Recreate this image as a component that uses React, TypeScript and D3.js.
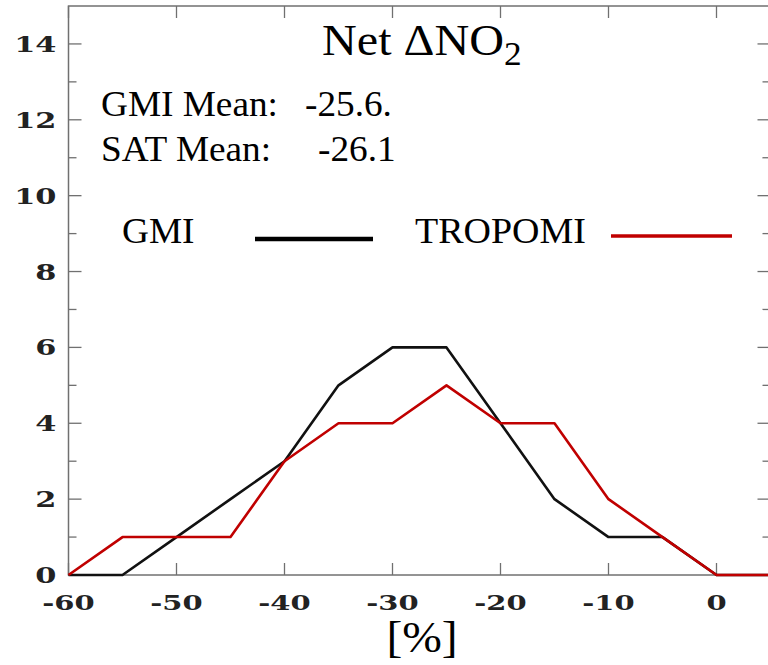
import React from "react";
import * as d3 from "d3";

const binCenters = [-60, -55, -50, -45, -40, -35, -30, -25, -20, -15, -10, -5, 0, 5];
const gmiCounts = [0, 0, 1, 2, 3, 5, 6, 6, 4, 2, 1, 1, 0, 0];
const tropomiCounts = [0, 1, 1, 1, 3, 4, 4, 5, 4, 4, 2, 1, 0, 0];
const xTicks = [-60, -50, -40, -30, -20, -10, 0];
const yTicks = [0, 2, 4, 6, 8, 10, 12, 14];
const yMinorTicks = [1, 3, 5, 7, 9, 11, 13];
const titleText = "Net \u0394NO";
const gmiMeanLabel = "GMI Mean:";
const gmiMeanValue = "-25.6.";
const satMeanLabel = "SAT Mean:";
const satMeanValue = "-26.1";
const seriesNames = ["GMI", "TROPOMI"];
const xAxisLabel = "[%]";

const W = 768;
const H = 665;
const left = 68.5;
const right = 770.5;
const top = 6;
const bottom = 575;

export default function App() {
  const x = d3.scaleLinear().domain([-60, 5]).range([left, right]);
  const y = d3.scaleLinear().domain([0, 15]).range([bottom, top]);
  const line = d3
    .line<number>()
    .x((_, i) => x(binCenters[i]))
    .y((d) => y(d));

  const axisColor = "#707070";
  const tickStyle: React.CSSProperties = {
    fontFamily: '"DejaVu Serif", serif',
    fontWeight: "bold",
  };
  const serifStyle: React.CSSProperties = {
    fontFamily: '"Liberation Serif", "Times New Roman", Times, serif',
  };
  const sx = 1.38;
  const tx = 1.05;

  const sText = (px: number, py: number, s: string, size: number, scale = tx) => (
    <text
      transform={`translate(${px},${py}) scale(${scale},1)`}
      style={serifStyle}
      fontSize={size}
      fill="#000"
    >
      {s}
    </text>
  );

  return (
    <svg
      width={W}
      height={H}
      style={{ position: "absolute", left: 0, top: 0, background: "#fff" }}
    >
      <rect x={0} y={0} width={W} height={H} fill="#fff" />
      <rect
        x={left}
        y={top}
        width={right - left}
        height={bottom - top}
        fill="none"
        stroke={axisColor}
        strokeWidth={1.5}
      />
      {xTicks.map((t) => (
        <g key={"xt" + t}>
          <line x1={x(t)} x2={x(t)} y1={bottom} y2={bottom - 12} stroke={axisColor} strokeWidth={1.3} />
          <line x1={x(t)} x2={x(t)} y1={top} y2={top + 12} stroke={axisColor} strokeWidth={1.3} />
          <text
            transform={`translate(${x(t)},${bottom + 35}) scale(${sx},1)`}
            textAnchor="middle"
            style={tickStyle}
            fontSize={21}
            fill="#222"
          >
            {t}
          </text>
        </g>
      ))}
      {yTicks.map((t) => (
        <g key={"yt" + t}>
          <line x1={left} x2={left + 13} y1={y(t)} y2={y(t)} stroke={axisColor} strokeWidth={1.3} />
          <line x1={right} x2={right - 13} y1={y(t)} y2={y(t)} stroke={axisColor} strokeWidth={1.3} />
          <text
            transform={`translate(${left - 12},${y(t) + 8}) scale(${sx},1)`}
            textAnchor="end"
            style={tickStyle}
            fontSize={22}
            fill="#222"
          >
            {t}
          </text>
        </g>
      ))}
      {yMinorTicks.map((t) => (
        <g key={"ym" + t}>
          <line x1={left} x2={left + 8} y1={y(t)} y2={y(t)} stroke={axisColor} strokeWidth={1.3} />
          <line x1={right} x2={right - 8} y1={y(t)} y2={y(t)} stroke={axisColor} strokeWidth={1.3} />
        </g>
      ))}
      <path d={line(gmiCounts) || ""} fill="none" stroke="#111" strokeWidth={2.6} strokeLinejoin="round" />
      <path d={line(tropomiCounts) || ""} fill="none" stroke="#c00000" strokeWidth={2.6} strokeLinejoin="round" />
      <text
        transform={`translate(322,55) scale(1.07,1)`}
        style={serifStyle}
        fontSize={45}
        fill="#000"
      >
        {titleText}
        <tspan fontSize={33} dy={10}>2</tspan>
      </text>
      {sText(101, 116, gmiMeanLabel, 35.5)}
      {sText(305, 116, gmiMeanValue, 35.5)}
      {sText(101, 161, satMeanLabel, 35.5)}
      {sText(318, 161, satMeanValue, 35.5)}
      {sText(122, 243, seriesNames[0], 35.5)}
      <line x1={255} x2={373} y1={239} y2={239} stroke="#000" strokeWidth={4.5} />
      {sText(415, 243, seriesNames[1], 35.5, 1.07)}
      <line x1={611} x2={732} y1={236} y2={236} stroke="#c00000" strokeWidth={3.5} />
      <text
        transform={`translate(422,652) scale(1.08,1)`}
        textAnchor="middle"
        style={serifStyle}
        fontSize={44}
        fill="#000"
      >
        {xAxisLabel}
      </text>
    </svg>
  );
}
